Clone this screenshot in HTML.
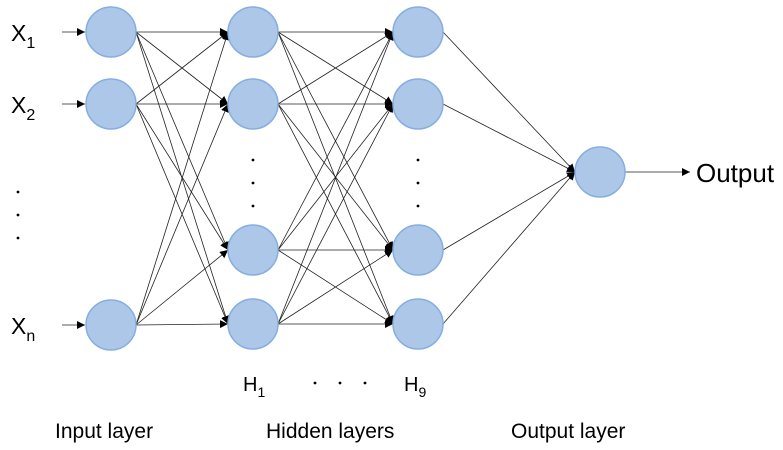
<!DOCTYPE html>
<html><head><style>body{margin:0;background:#fff}svg{display:block}text{font-family:"Liberation Sans",sans-serif;fill:#000}</style></head>
<body>
<svg width="783" height="450" viewBox="0 0 783 450">
<defs><marker id="a" viewBox="0 0 10 10" refX="10" refY="5" markerWidth="8" markerHeight="8" orient="auto" markerUnits="userSpaceOnUse"><path d="M0,0L10,5L0,10z" fill="#000"/></marker></defs>
<g id="edges" stroke="#222" stroke-width="0.8" fill="none"></g>
<g id="nodes" fill="#adc7e8" stroke="#86aee0" stroke-width="1.5"></g>
<g font-size="23">
<text x="11" y="41">X<tspan font-size="16" dy="7">1</tspan></text>
<text x="11" y="113">X<tspan font-size="16" dy="7">2</tspan></text>
<text x="11" y="334">X<tspan font-size="16" dy="7">n</tspan></text>
<text x="696" y="182" font-size="26">Output</text>
<text x="243" y="391" font-size="20">H<tspan font-size="14" dy="6">1</tspan></text>
<text x="404" y="391" font-size="20">H<tspan font-size="14" dy="6">9</tspan></text>
<text x="55" y="438" font-size="21">Input layer</text>
<text x="266" y="438" font-size="21">Hidden layers</text>
<text x="511" y="438" font-size="21">Output layer</text>
</g>
<g fill="#000">
<circle cx="18" cy="192" r="1.4"/><circle cx="18" cy="215" r="1.4"/><circle cx="18" cy="238" r="1.4"/>
<circle cx="253" cy="160" r="1.4"/><circle cx="253" cy="183" r="1.4"/><circle cx="253" cy="206" r="1.4"/>
<circle cx="418" cy="160" r="1.4"/><circle cx="418" cy="183" r="1.4"/><circle cx="418" cy="206" r="1.4"/>
<circle cx="315" cy="383" r="1.4"/><circle cx="340" cy="383" r="1.4"/><circle cx="365" cy="383" r="1.4"/>
</g>
</svg>
<script>
var e=document.getElementById('edges'),n=document.getElementById('nodes'),ns='http://www.w3.org/2000/svg';
function L(x1,y1,x2,y2){var l=document.createElementNS(ns,'line');l.setAttribute('x1',x1);l.setAttribute('y1',y1);l.setAttribute('x2',x2);l.setAttribute('y2',y2);l.setAttribute('marker-end','url(#a)');e.appendChild(l);}
function C(x,y){var c=document.createElementNS(ns,'circle');c.setAttribute('cx',x);c.setAttribute('cy',y);c.setAttribute('r',25);n.appendChild(c);}
var I=[32,104,325],H=[32,104,250,324],r=25;
I.forEach(function(y){L(62,y,85,y);});
I.forEach(function(a){H.forEach(function(b){L(111+r,a,253-r,b);});});
H.forEach(function(a){H.forEach(function(b){L(253+r,a,418-r,b);});});
H.forEach(function(a){L(418+r,a,600-r,172);});
L(625,172,690,172);
I.forEach(function(y){C(111,y);});H.forEach(function(y){C(253,y);C(418,y);});C(600,172);
</script>
</body></html>
